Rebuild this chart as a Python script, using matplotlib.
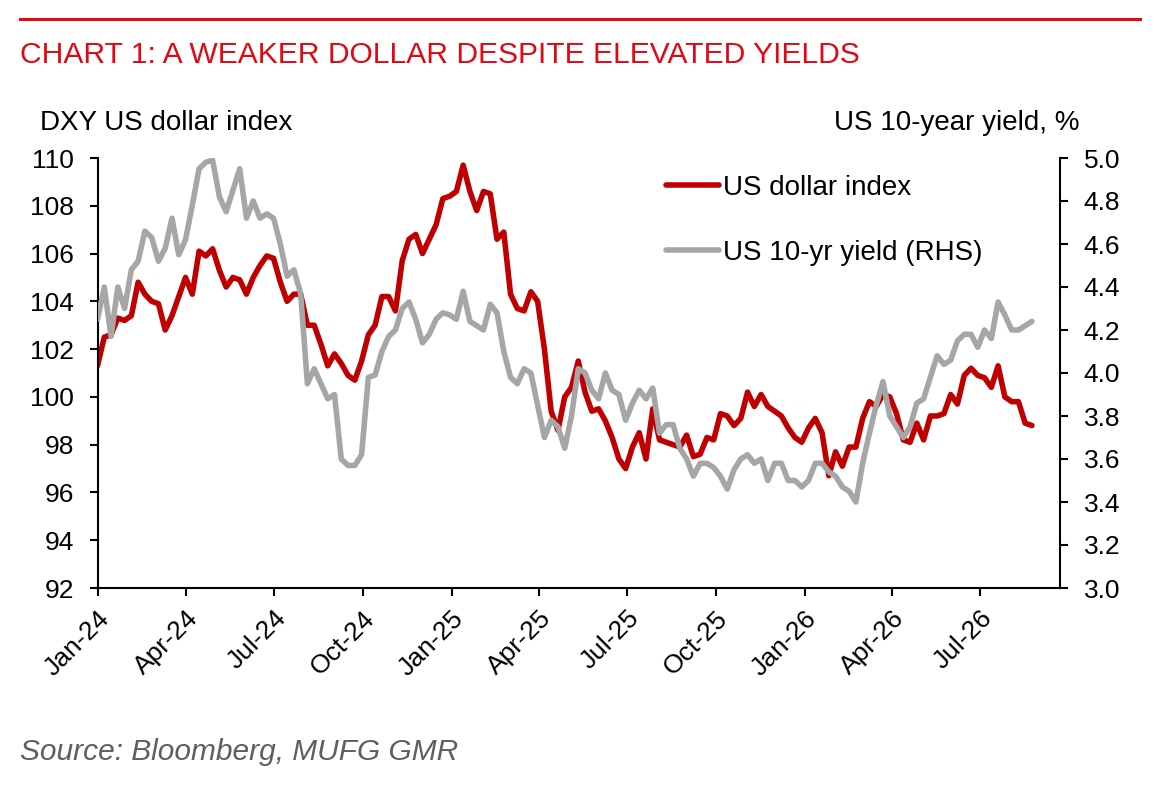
import matplotlib
matplotlib.use("Agg")
import matplotlib.pyplot as plt
import matplotlib.transforms as mtransforms
import numpy as np
import pandas as pd

plt.rcParams['font.family'] = ['Liberation Sans', 'DejaVu Sans']

# ---------------- data ----------------
dates = pd.date_range('2024-01-01', periods=139, freq='7D')

dxy = [101.3, 102.5, 102.6, 103.3, 103.2, 103.4, 104.8, 104.3, 104.0, 103.9,
       102.8, 103.4, 104.2, 105.0, 104.3, 106.1, 105.9, 106.2, 105.3, 104.6,
       105.0, 104.9, 104.3, 105.0, 105.5, 105.9, 105.8, 104.8, 104.0, 104.3,
       104.3, 103.0, 103.0, 102.2, 101.3, 101.8, 101.4, 100.9, 100.7, 101.5,
       102.6, 103.0, 104.2, 104.2, 103.6, 105.7, 106.6, 106.8, 106.0, 106.6,
       107.2, 108.3, 108.4, 108.6, 109.7, 108.6, 107.8, 108.6, 108.5, 106.6,
       106.9, 104.3, 103.7, 103.6, 104.4, 104.0, 102.0, 99.4, 98.6, 100.0,
       100.4, 101.5, 100.2, 99.4, 99.5, 99.0, 98.3, 97.4, 97.0, 97.9,
       98.5, 97.4, 99.5, 98.2, 98.1, 98.0, 97.9, 98.4, 97.5, 97.6,
       98.3, 98.2, 99.3, 99.2, 98.8, 99.1, 100.2, 99.6, 100.1, 99.6,
       99.4, 99.2, 98.7, 98.3, 98.1, 98.7, 99.1, 98.5, 96.7, 97.7,
       97.1, 97.9, 97.9, 99.1, 99.8, 99.6, 100.1, 100.0, 99.3, 98.2,
       98.1, 98.9, 98.2, 99.2, 99.2, 99.3, 100.1, 99.7, 100.9, 101.2,
       100.9, 100.8, 100.4, 101.3, 100.0, 99.8, 99.8, 98.9, 98.8]

yld = [4.25, 4.40, 4.17, 4.40, 4.30, 4.48, 4.52, 4.66, 4.63, 4.52,
       4.58, 4.72, 4.55, 4.62, 4.78, 4.95, 4.98, 4.99, 4.82, 4.75,
       4.85, 4.95, 4.72, 4.80, 4.72, 4.74, 4.72, 4.60, 4.45, 4.48,
       4.37, 3.95, 4.02, 3.95, 3.88, 3.90, 3.60, 3.57, 3.57, 3.62,
       3.98, 3.99, 4.10, 4.17, 4.20, 4.30, 4.33, 4.25, 4.14, 4.18,
       4.25, 4.28, 4.27, 4.25, 4.38, 4.24, 4.22, 4.20, 4.32, 4.28,
       4.10, 3.98, 3.95, 4.02, 4.00, 3.85, 3.70, 3.78, 3.75, 3.65,
       3.80, 4.02, 4.00, 3.92, 3.88, 4.00, 3.92, 3.90, 3.78, 3.86,
       3.92, 3.88, 3.93, 3.72, 3.76, 3.76, 3.65, 3.60, 3.52, 3.58,
       3.58, 3.56, 3.52, 3.46, 3.55, 3.60, 3.62, 3.58, 3.60, 3.50,
       3.58, 3.58, 3.50, 3.50, 3.47, 3.50, 3.58, 3.58, 3.54, 3.52,
       3.47, 3.45, 3.40, 3.58, 3.72, 3.85, 3.96, 3.80, 3.75, 3.70,
       3.75, 3.86, 3.88, 3.98, 4.08, 4.04, 4.06, 4.15, 4.18, 4.18,
       4.12, 4.20, 4.16, 4.33, 4.27, 4.20, 4.20, 4.22, 4.24]

xtick_dates = pd.to_datetime(['2024-01-01', '2024-04-01', '2024-07-01', '2024-10-01',
                              '2025-01-01', '2025-04-01', '2025-07-01', '2025-10-01',
                              '2026-01-01', '2026-04-01', '2026-07-01'])
xtick_labels = ['Jan-24', 'Apr-24', 'Jul-24', 'Oct-24', 'Jan-25', 'Apr-25',
                'Jul-25', 'Oct-25', 'Jan-26', 'Apr-26', 'Jul-26']
left_ticks = [92, 94, 96, 98, 100, 102, 104, 106, 108, 110]
right_ticks = [3.0, 3.2, 3.4, 3.6, 3.8, 4.0, 4.2, 4.4, 4.6, 4.8, 5.0]

RED = '#C00000'
GREY = '#A6A6A6'
TITLE_RED = '#E30613'

# ---------------- figure ----------------
W, H = 1159, 793
fig = plt.figure(figsize=(W / 100, H / 100), dpi=100)
ax = fig.add_axes([97.5 / W, 1 - 588 / H, (1060 - 97.5) / W, (588 - 158) / H])
ax2 = ax.twinx()

l1, = ax.plot(dates, dxy, color=RED, lw=4.0, solid_joinstyle='round',
              solid_capstyle='round', label='US dollar index')
l2, = ax2.plot(dates, yld, color=GREY, lw=4.0, solid_joinstyle='round',
               solid_capstyle='round', label='US 10-yr yield (RHS)')

ax.set_xlim(pd.Timestamp('2024-01-01'), pd.Timestamp('2026-09-22'))
ax.set_ylim(92, 110)
ax2.set_ylim(3.0, 5.0)
ax.set_yticks(left_ticks)
ax.set_yticklabels([str(v) for v in left_ticks])
ax2.set_yticks(right_ticks)
ax2.set_yticklabels([f'{v:.1f}' for v in right_ticks])
ax.set_xticks(xtick_dates)
ax.set_xticklabels(xtick_labels, rotation=45, ha='right', va='top',
                   rotation_mode='anchor')
shift = mtransforms.ScaledTranslation(-5 / 100, 0, fig.dpi_scale_trans)
for lab in ax.get_xticklabels():
    lab.set_transform(lab.get_transform() + shift)

for a in (ax, ax2):
    a.spines['top'].set_visible(False)
    for s in a.spines.values():
        s.set_linewidth(1.5)
ax.spines['right'].set_visible(False)
ax2.spines['left'].set_visible(False)
ax2.spines['bottom'].set_visible(False)

ax.tick_params(axis='y', direction='out', length=6, width=1.5, labelsize=19, pad=11)
ax.tick_params(axis='x', direction='out', length=6, width=1.5, labelsize=19, pad=7)
ax2.tick_params(axis='y', direction='out', length=6, width=1.5, labelsize=19, pad=11)

leg = ax2.legend(handles=[l1, l2], loc='upper left', bbox_to_anchor=(0.585, 0.974),
                 frameon=False, fontsize=20, handlelength=1.9, handletextpad=0.15,
                 labelspacing=1.4, borderpad=0.2, borderaxespad=0)

# ---------------- texts ----------------
fig.add_artist(plt.Line2D([20 / W, 1140 / W], [1 - 19 / H, 1 - 19 / H],
                          color=TITLE_RED, lw=2.2))
fig.text(20 / W, 1 - 63 / H, 'CHART 1: A WEAKER DOLLAR DESPITE ELEVATED YIELDS',
         color=TITLE_RED, fontsize=21.6, ha='left', va='baseline')
fig.text(40 / W, 1 - 130 / H, 'DXY US dollar index', fontsize=20,
         ha='left', va='baseline', color='black')
fig.text(1079 / W, 1 - 130 / H, 'US 10-year yield, %', fontsize=20,
         ha='right', va='baseline', color='black')
fig.text(20 / W, 1 - 760 / H, 'Source: Bloomberg, MUFG GMR', fontsize=21.5,
         style='italic', color='#5F5F5F', ha='left', va='baseline')

fig.savefig('out.png', dpi=100)
